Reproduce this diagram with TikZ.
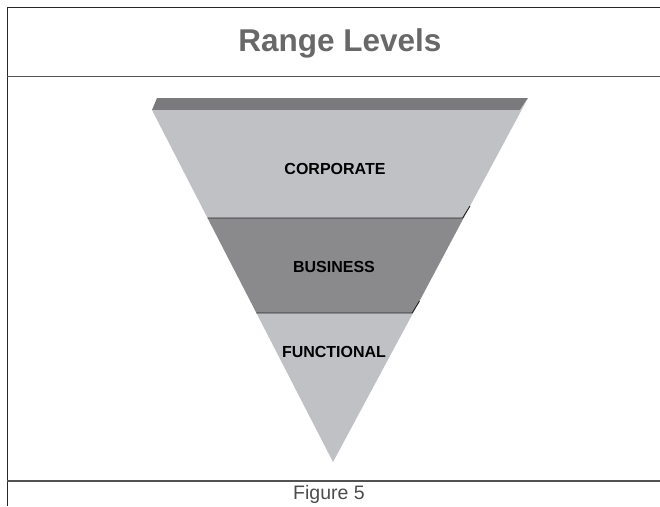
\documentclass[tikz,border=0pt]{standalone}
\usepackage{fontspec}
\setmainfont{Liberation Sans}
\usepackage{tikz}

\definecolor{slabgray}{RGB}{122,122,124}
\definecolor{lightband}{RGB}{192,193,197}
\definecolor{darkband}{RGB}{138,138,140}
\definecolor{titlegray}{RGB}{104,104,104}
\definecolor{framegray}{RGB}{40,40,40}

\tikzset{
  lvl/.style={font=\fontsize{16}{18}\selectfont\bfseries, text=black},
  bandline/.style={draw=black!85, line width=0.9pt},
}

\begin{document}
\begin{tikzpicture}[x=1pt, y=-1pt]
		\useasboundingbox (0,0) rectangle (660,506);
		% frame
		\draw[framegray, line width=1.8pt] (7.5,506) -- (7.5,7.5) -- (660,7.5);
		\draw[framegray!80, line width=1pt] (7,76) -- (660,76);
		\draw[framegray!80, line width=1.2pt] (7,481) -- (660,481);
		\node[font=\fontsize{31.5}{34}\selectfont\bfseries, text=titlegray] (title) at (340,43) {Range Levels};
		% corners of the pyramid
		\coordinate (bl) at (157,98);
		\coordinate (br) at (528,98);
		\coordinate (fl) at (152,110);
		\coordinate (fr) at (520,110);
		\coordinate (apex) at (333,462);
		\coordinate (c1l) at (207.5,218);
		\coordinate (c1r) at (462.6,218);
		\coordinate (c1b) at (470,206);
		\coordinate (c2l) at (256.4,313);
		\coordinate (c2r) at (412.2,313);
		\coordinate (c2b) at (419.5,301);
		% bands
		\fill[slabgray] (bl) -- (br) -- (fr) -- (fl) -- cycle;
		\fill[lightband] (fl) -- (fr) -- (br) -- (c1b) -- (c1r) -- (c1l) -- cycle;
		\fill[darkband] (c1l) -- (c1r) -- (c1b) -- (c2b) -- (c2r) -- (c2l) -- cycle;
		\fill[lightband] (c2l) -- (c2r) -- (c2b) -- (apex) -- cycle;
		\draw[bandline] (c1l) -- (c1r) -- (c1b);
		\draw[bandline] (c2l) -- (c2r) -- (c2b);
		\node[lvl] (corp) at (335,169) {CORPORATE};
		\node[lvl] (bus) at (334,267) {BUSINESS};
		\node[lvl] (func) at (334,352) {FUNCTIONAL};
		\node[font=\fontsize{19.5}{22}\selectfont, text=black!70] (cap) at (329,494) {Figure 5};
	\end{tikzpicture}
\end{document}
